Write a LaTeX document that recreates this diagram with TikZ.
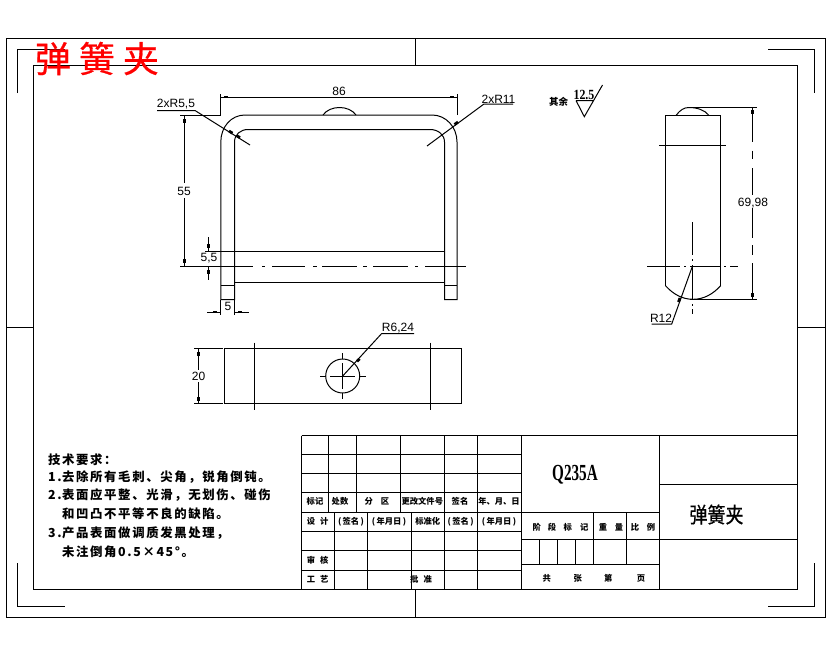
\documentclass[tikz,border=0pt]{standalone}
\usepackage{fontspec}
\setmainfont{Liberation Sans}
\newfontfamily\cjk{Noto Sans CJK SC}
\newfontfamily\cjkf{Noto Sans CJK SC}[FakeBold=0.6]
\newfontfamily\cjkl{Noto Sans CJK SC}[LetterSpace=13]
\newfontfamily\ser{Liberation Serif}
\tikzset{
  x=1pt,y=-1pt,
  ln/.style={line width=1pt,black},
  thn/.style={line width=1pt,black},
  blob/.style={line width=2.8pt,black},
  dimtxt/.style={inner sep=0pt,font=\fontsize{12}{12}\selectfont,text=black},
  ttl/.style={inner sep=0pt,font=\cjk\bfseries\fontsize{8.3}{9}\selectfont},
  req/.style={inner sep=0pt,anchor=west,font=\cjkl\bfseries\fontsize{12.4}{13}\selectfont}
}
\newcommand{\nm}[1]{\makebox[14pt][l]{#1}}
\newcommand{\fwc}{\char"FF0C\relax}
\newcommand{\fwk}{\char"FF1A\relax}
\begin{document}
\begin{tikzpicture}
\useasboundingbox (0,0) rectangle (830,654);
\fill[white] (0,0) rectangle (830,654);
% frames
\draw[ln] (6.5,38.5) rectangle (825,617);
\draw[ln] (33.5,65.5) rectangle (797.5,589);
\draw[ln] (415.5,38.5)--(415.5,65.5) (415.5,589)--(415.5,617);
\draw[ln] (6.5,327.5)--(33.5,327.5) (797.5,327.5)--(825,327.5);
\draw[ln] (17.5,93)--(17.5,49.5)--(65,49.5);
\draw[ln] (768,49.5)--(814.5,49.5)--(814.5,93);
\draw[ln] (17.5,563)--(17.5,606.5)--(65,606.5);
\draw[ln] (768,606.5)--(814.5,606.5)--(814.5,563);
% title
\node[name=ttlred,inner sep=0pt,text=red,font=\cjkf\fontsize{36}{36}\selectfont] at (97,58.5) {弹\hspace{8pt}簧\hspace{8pt}夹};
% main view
\draw[ln] (220.8,299.5)--(220.8,142) .. controls (220.8,127) and (231,115) .. (245,115) -- (432,115)
  .. controls (446,115) and (457,127) .. (457,142) -- (457,299.5) -- (444.5,299.5) -- (444.5,142)
  .. controls (444.5,134.5) and (438,129.5) .. (430,129.5) -- (248,129.5)
  .. controls (240.5,129.5) and (234.5,134.5) .. (234.5,142) -- (234.5,299.5) -- cycle;
\draw[ln] (323,115) .. controls (330,105) and (349,105) .. (356,115);
\draw[ln] (220.8,285.5)--(234.5,285.5) (444.5,285.5)--(457,285.5);
\draw[ln] (205,251.5)--(444.5,251.5) (234.5,282.5)--(444.5,282.5);
\draw[thn] (180,266)--(253,266) (262,266)--(265,266) (272,266)--(305,266) (313,266)--(317,266)
  (322,266)--(357,266) (363,266)--(367,266) (373,266)--(408,266) (415,266)--(418,266) (425,266)--(466,266);
% dim 86
\draw[thn] (220.8,115)--(220.8,94) (457,115)--(457,94) (220.8,97)--(457,97);
\draw[blob] (224,97)--(228,97) (450,97)--(454,97);
\node[dimtxt,name=d86] at (339,91.5) {86};
% dim 55
\draw[thn] (180,115)--(221,115) (184.5,115)--(184.5,183) (184.5,198)--(184.5,266);
\draw[blob] (184.5,119)--(184.5,123) (184.5,259)--(184.5,263);
\node[dimtxt,name=d55] at (184,191) {55};
% dim 5,5
\draw[thn] (208.5,237)--(208.5,251) (208.5,266)--(208.5,280);
\draw[blob] (208.5,244)--(208.5,248) (208.5,270)--(208.5,274);
\node[dimtxt,name=d5a] at (209,258.5) {5,5};
% dim 5
\draw[thn] (220.8,299.5)--(220.8,315) (234.5,299.5)--(234.5,315) (207,312)--(220.8,312) (234.5,312)--(249,312);
\draw[blob] (213,312)--(217,312) (238,312)--(242,312);
\node[dimtxt,name=d5] at (228,306.5) {5};
% leaders
\draw[thn] (157,110.5)--(195,110.5)--(250,145);
\draw[blob] (229,131)--(232.5,133.2) (236.5,135.5)--(240,137.7);
\node[dimtxt,name=r55] at (176,104) {2xR5,5};
\draw[thn] (513,104)--(484,104)--(427,146);
\draw[blob] (454.5,124.5)--(458,122);
\node[dimtxt,name=r11] at (498.5,99) {2xR11};
% lower view
\draw[ln] (224.5,348.5) rectangle (461.7,403.5);
\draw[ln] (254.5,342.5)--(254.5,409.5) (430.5,342.5)--(430.5,409.5);
\draw[thn] (342.7,376) circle[radius=17];
\draw[thn] (320,376)--(326,376) (330,376)--(355,376) (359,376)--(365.7,376)
  (342.7,353)--(342.7,359) (342.7,363)--(342.7,389) (342.7,393)--(342.7,399);
\draw[thn] (342.7,376)--(381.7,333.5)--(414,333.5);
\draw[blob] (357,361.5)--(359.5,358.8);
\node[dimtxt,name=r624] at (398,328) {R6,24};
\draw[thn] (194,348.5)--(222.7,348.5) (194,403.5)--(222.7,403.5) (198.5,348.5)--(198.5,370) (198.5,382)--(198.5,403.5);
\draw[blob] (198.5,351.5)--(198.5,355.5) (198.5,397)--(198.5,401);
\node[dimtxt,name=d20] at (198.5,376) {20};
% side view
\draw[ln] (665.5,285.7)--(665.5,115.5)--(720.7,115.5)--(720.7,285.7);
\draw[ln] (665.5,285.7) .. controls (673,294) and (682,299.3) .. (693,299.3) .. controls (704,299.3) and (713,294) .. (720.7,285.7);
\draw[ln] (676,115.5) .. controls (680,110) and (684,107.5) .. (689,107.5) .. controls (697,107.5) and (705,110) .. (709,115.5);
\draw[ln] (659,145.5)--(725.7,145.5);
\draw[thn] (687.7,107.5)--(756.7,107.5) (690,299.5)--(756.7,299.5);
\draw[thn] (752.7,107.5)--(752.7,141.7) (752.7,150.7)--(752.7,159.3) (752.7,168)--(752.7,195)
  (752.7,208)--(752.7,238) (752.7,245)--(752.7,255) (752.7,263)--(752.7,299.5);
\draw[blob] (752.7,110)--(752.7,114) (752.7,293)--(752.7,297);
\node[dimtxt,name=d698] at (753,203) {69,98};
\draw[thn] (647,266.5)--(680,266.5) (684,266.5)--(686,266.5) (690,266.5)--(720,266.5) (724,266.5)--(726,266.5) (730,266.5)--(738,266.5);
\draw[thn] (692.3,222)--(692.3,255) (692.3,259)--(692.3,261) (692.3,265)--(692.3,300) (692.3,304)--(692.3,306) (692.3,309)--(692.3,313.7);
\draw[thn] (692.3,266.5)--(671.7,324)--(651.7,324);
\draw[blob] (678.5,302)--(680,298);
\node[dimtxt,name=r12] at (661,318.5) {R12};
% roughness
\node[name=qiyu,inner sep=0pt,font=\cjk\bfseries\fontsize{9.5}{10}\selectfont] at (558.5,101.5) {其余};
\draw[thn] (576,100.5)--(593,100.5) (576,100.5)--(584.3,116.7)--(602.5,85);
\node[name=rough,inner sep=0pt,font=\ser\bfseries\fontsize{14}{14}\selectfont,xscale=.85] at (584,94.5) {12.5};
% requirements
\node[req,name=q0] at (48,460) {技术要求\fwk};
\node[req,name=q1] at (48,477) {\nm{1.}去除所有毛刺、尖角\fwc 锐角倒钝。};
\node[req,name=q2] at (48,495.5) {\nm{2.}表面应平整、光滑\fwc 无划伤、碰伤};
\node[req,name=q3] at (62,514) {和凹凸不平等不良的缺陷。};
\node[req,name=q4] at (48,533) {\nm{3.}产品表面做调质发黑处理\fwc};
\node[req,name=q5] at (62,552) {未注倒角0.5×45°。};
% title block
\draw[ln] (301.7,435.5)--(797.5,435.5)--(797.5,589) (301.7,435.5)--(301.7,589);
\foreach \y in {454.5,473.5,492.5,512.5,531.5,550.5,570.5} \draw[ln] (301.7,\y)--(521.7,\y);
\foreach \x in {328.5,356.5,400.5} \draw[ln] (\x,435.5)--(\x,512.5);
\foreach \x in {334.5,367.5,411.5} \draw[ln] (\x,512.5)--(\x,589);
\foreach \x in {444.5,477.5} \draw[ln] (\x,435.5)--(\x,589);
\draw[ln] (521.7,435.5)--(521.7,589) (659.5,435.5)--(659.5,589);
\draw[ln] (659.5,484.5)--(797.5,484.5) (521.7,512.5)--(659.5,512.5) (521.7,539.5)--(797.5,539.5) (521.7,564.5)--(659.5,564.5);
\draw[ln] (593.5,512.5)--(593.5,564.5) (626.5,512.5)--(626.5,564.5);
\foreach \x in {539.5,557.5,575.5} \draw[ln] (\x,539.5)--(\x,564.5);
\node[name=mat,inner sep=0pt,font=\ser\bfseries\fontsize{23}{23}\selectfont,xscale=.66] at (575,475) {Q235A};
\node[name=ttl2,inner sep=0pt,font=\cjkf\fontsize{18}{18}\selectfont,yscale=1.2] at (716.5,514.5) {弹簧夹};
\node[ttl,name=a1] at (315,501.7) {标记};
\node[ttl,name=a2] at (340,501.7) {处数};
\node[ttl,name=a3] at (377,501.7) {分\hspace{8pt}区};
\node[ttl,name=a4] at (422.3,501.7) {更改文件号};
\node[ttl,name=a5] at (460,501.7) {签名};
\node[ttl,name=a6] at (499,501.7) {年、月、日};
\node[ttl,name=b1] at (317.7,521.7) {设\hspace{5pt}计};
\node[ttl,name=b2] at (351,521.7) {(\,签名\,)};
\node[ttl,name=b3] at (389,521.7) {(\,年月日\,)};
\node[ttl,name=b4] at (427.7,521.7) {标准化};
\node[ttl,name=b5] at (460.7,521.7) {(\,签名\,)};
\node[ttl,name=b6] at (499,521.7) {(\,年月日\,)};
\node[ttl,name=c1] at (317.7,560.7) {审\hspace{5pt}核};
\node[ttl,name=c2] at (317.7,579) {工\hspace{5pt}艺};
\node[ttl,name=c3] at (421,579) {批\hspace{5pt}准};
\node[ttl,name=e1] at (536.7,527.3) {阶};
\node[ttl,name=e2] at (552,527.3) {段};
\node[ttl,name=e3] at (567.7,527.3) {标};
\node[ttl,name=e4] at (584.3,527.3) {记};
\node[ttl,name=e5] at (603,527.3) {重};
\node[ttl,name=e6] at (619,527.3) {量};
\node[ttl,name=e7] at (635,527.3) {比};
\node[ttl,name=e8] at (651,527.3) {例};
\node[ttl,name=f1] at (546.7,578.3) {共};
\node[ttl,name=f2] at (577.7,578.3) {张};
\node[ttl,name=f3] at (608.3,578.3) {第};
\node[ttl,name=f4] at (641,578.3) {页};
\end{tikzpicture}
\end{document}
